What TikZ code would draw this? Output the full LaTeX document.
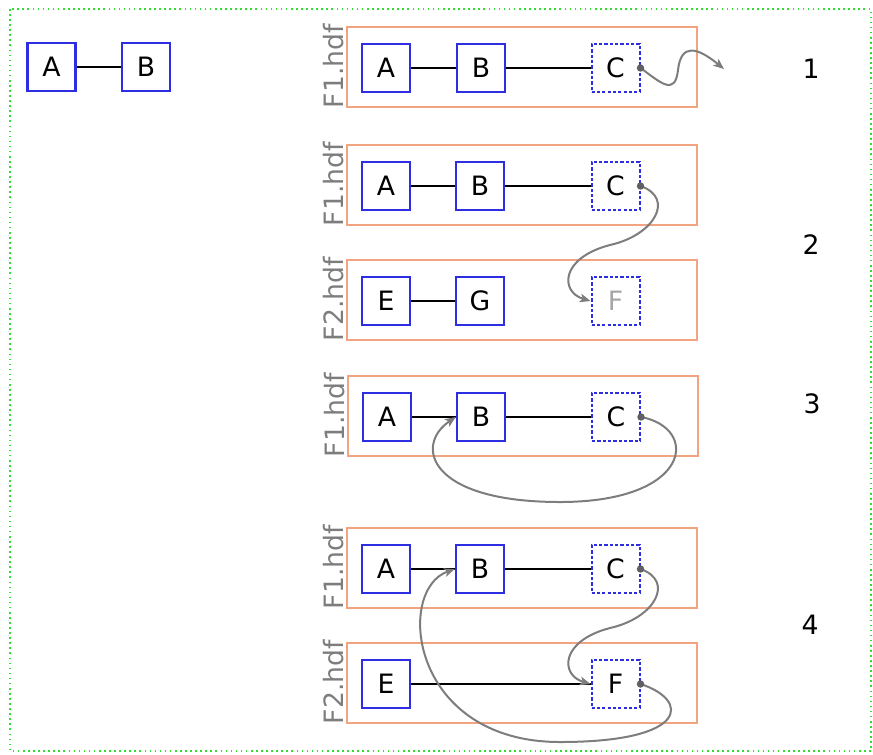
\documentclass[tikz,border=0pt]{standalone}
\usepackage{fontspec}
\setmainfont{DejaVu Sans}
\usetikzlibrary{arrows.meta}
\definecolor{boxblue}{RGB}{45,45,225}
\definecolor{fileorange}{RGB}{242,164,128}
\definecolor{framegreen}{RGB}{50,220,50}
\definecolor{linkgray}{RGB}{125,125,125}
\definecolor{dotgray}{RGB}{95,95,100}
\tikzset{
  obj/.style={draw=boxblue, line width=1.8pt, minimum width=36pt, minimum height=36pt,
    inner sep=0pt, font=\fontsize{20}{23}\selectfont},
  extobj/.style={obj, line width=1.5pt, dash pattern=on 2.4pt off 1.6pt},
  filebox/.style={draw=fileorange, line width=1.8pt, minimum width=262.5pt, minimum height=60pt, inner sep=0pt},
  filelabel/.style={rotate=90, text=linkgray, inner sep=0pt, font=\fontsize{20}{23}\selectfont},
  stepnum/.style={font=\fontsize{20}{23}\selectfont, inner sep=0pt},
  hardlink/.style={black, line width=1.5pt},
  softlink/.style={linkgray, line width=1.5pt, -{Stealth[length=8pt,width=6.5pt,inset=2pt]}},
  srcdot/.style={fill=dotgray}
}
\begin{document}
\begin{tikzpicture}[x=0.75pt, y=-0.75pt]
\useasboundingbox (0,0) rectangle (873,754);
% outer frame
\draw[framegreen, line width=1.2pt, dash pattern=on 1.2pt off 2.6pt] (10,9) rectangle (871,751);

% plain graph
\node[obj] (a0) at (51.5,67) {A};
\node[obj] (b0) at (146,67) {B};
\draw[hardlink] (a0) -- (b0);

% step 1: external link pointing nowhere
\node[filebox] (f1a) at (522,67) {};
\node[filelabel] (l1a) at (334,66) {F1.hdf};
\node[obj] (a1) at (386,68) {A};
\node[obj] (b1) at (481,68) {B};
\node[extobj] (c1) at (615.5,68) {C};
\draw[hardlink] (a1) -- (b1);
\draw[hardlink] (b1) -- (c1);
\coordinate (void1) at (724,69);
\draw[softlink] (c1.east) .. controls (660,82) and (675,97) .. (678,70)
  .. controls (681,43) and (697,47) .. (void1);
\fill[srcdot] (c1.east) circle[radius=2.8pt];
\node[stepnum] (n1) at (811,69) {1};

% step 2: link into a second file
\node[filebox] (f1b) at (522,185) {};
\node[filelabel] (l1b) at (334,184) {F1.hdf};
\node[obj] (a2) at (386,186) {A};
\node[obj] (b2) at (480,186) {B};
\node[extobj] (c2) at (615.5,186) {C};
\draw[hardlink] (a2) -- (b2);
\draw[hardlink] (b2) -- (c2);
\node[filebox] (f2b) at (522,300) {};
\node[filelabel] (l2b) at (334,299) {F2.hdf};
\node[obj] (e2) at (386,301) {E};
\node[obj] (g2) at (480,301) {G};
\node[extobj, text=black!35] (f2) at (615.5,301) {F};
\draw[hardlink] (e2) -- (g2);
\draw[softlink] (c2.east) .. controls (675,198) and (655,235) .. (610,245)
  .. controls (560,258) and (560,292) .. (f2.west);
\fill[srcdot] (c2.east) circle[radius=2.8pt];
\node[stepnum] (n2) at (811,245) {2};

% step 3: link back into the same file
\node[filebox] (f1c) at (523,416) {};
\node[filelabel] (l1c) at (335,415) {F1.hdf};
\node[obj] (a3) at (387,417) {A};
\node[obj] (b3) at (481,417) {B};
\node[extobj] (c3) at (616,417) {C};
\draw[hardlink] (a3) -- (b3);
\draw[hardlink] (b3) -- (c3);
\draw[softlink] (c3.east) .. controls (700,428) and (692,502) .. (560,502)
  .. controls (428,502) and (414,445) .. (b3.west);
\fill[srcdot] (c3.east) circle[radius=2.8pt];
\node[stepnum] (n3) at (812,404) {3};

% step 4: a cycle across two files
\node[filebox] (f1d) at (522,568) {};
\node[filelabel] (l1d) at (334,567) {F1.hdf};
\node[obj] (a4) at (386,569) {A};
\node[obj] (b4) at (480,569) {B};
\node[extobj] (c4) at (615.5,569) {C};
\draw[hardlink] (a4) -- (b4);
\draw[hardlink] (b4) -- (c4);
\node[filebox] (f2d) at (522,683) {};
\node[filelabel] (l2d) at (334,682) {F2.hdf};
\node[obj] (e4) at (386,684) {E};
\node[extobj] (f4) at (615.5,684) {F};
\draw[hardlink] (e4) -- (f4);
\draw[softlink] (c4.east) .. controls (675,581) and (655,618) .. (610,628)
  .. controls (560,641) and (560,675) .. (f4.west);
\draw[softlink] (f4.east) .. controls (690,700) and (690,742) .. (560,742)
  .. controls (410,742) and (395,590) .. (b4.west);
\fill[srcdot] (c4.east) circle[radius=2.8pt];
\fill[srcdot] (f4.east) circle[radius=2.8pt];
\node[stepnum] (n4) at (810,625) {4};
\end{tikzpicture}
\end{document}
